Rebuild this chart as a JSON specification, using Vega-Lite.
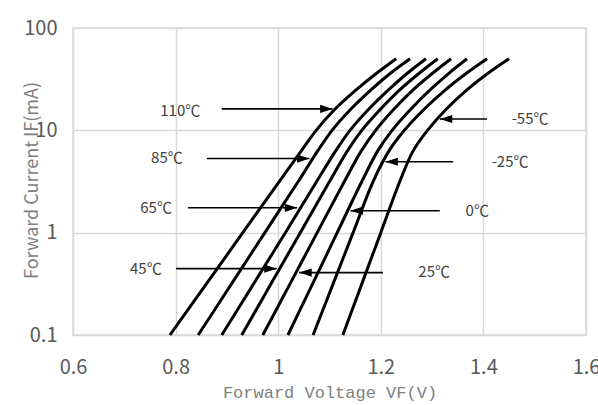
{
  "$schema": "https://vega.github.io/schema/vega-lite/v6.json",
  "width": 513,
  "height": 307,
  "autosize": {"type": "none"},
  "padding": {"left": 73, "top": 28, "right": 12, "bottom": 70},
  "background": "white",
  "config": {"view": {"stroke": "#d9d9d9", "strokeWidth": 1.5}},
  "datasets": {
    "curves": [
      {"T": "110", "V": 0.789, "I": 0.1}, {"T": "110", "V": 0.860, "I": 0.316}, {"T": "110", "V": 0.931, "I": 1}, {"T": "110", "V": 1.002, "I": 3.16}, {"T": "110", "V": 1.045, "I": 6.3}, {"T": "110", "V": 1.074, "I": 10}, {"T": "110", "V": 1.109, "I": 15.8}, {"T": "110", "V": 1.153, "I": 25.1}, {"T": "110", "V": 1.190, "I": 35.5}, {"T": "110", "V": 1.230, "I": 50},
      {"T": "85", "V": 0.844, "I": 0.1}, {"T": "85", "V": 0.909, "I": 0.316}, {"T": "85", "V": 0.974, "I": 1}, {"T": "85", "V": 1.039, "I": 3.16}, {"T": "85", "V": 1.077, "I": 6.3}, {"T": "85", "V": 1.105, "I": 10}, {"T": "85", "V": 1.140, "I": 15.8}, {"T": "85", "V": 1.182, "I": 25.1}, {"T": "85", "V": 1.217, "I": 35.5}, {"T": "85", "V": 1.257, "I": 50},
      {"T": "65", "V": 0.890, "I": 0.1}, {"T": "65", "V": 0.952, "I": 0.316}, {"T": "65", "V": 1.014, "I": 1}, {"T": "65", "V": 1.075, "I": 3.16}, {"T": "65", "V": 1.112, "I": 6.3}, {"T": "65", "V": 1.140, "I": 10}, {"T": "65", "V": 1.175, "I": 15.8}, {"T": "65", "V": 1.216, "I": 25.1}, {"T": "65", "V": 1.250, "I": 35.5}, {"T": "65", "V": 1.288, "I": 50},
      {"T": "45", "V": 0.929, "I": 0.1}, {"T": "45", "V": 0.986, "I": 0.316}, {"T": "45", "V": 1.043, "I": 1}, {"T": "45", "V": 1.100, "I": 3.16}, {"T": "45", "V": 1.135, "I": 6.3}, {"T": "45", "V": 1.163, "I": 10}, {"T": "45", "V": 1.198, "I": 15.8}, {"T": "45", "V": 1.238, "I": 25.1}, {"T": "45", "V": 1.273, "I": 35.5}, {"T": "45", "V": 1.311, "I": 50},
      {"T": "25", "V": 0.970, "I": 0.1}, {"T": "25", "V": 1.023, "I": 0.316}, {"T": "25", "V": 1.076, "I": 1}, {"T": "25", "V": 1.129, "I": 3.16}, {"T": "25", "V": 1.162, "I": 6.3}, {"T": "25", "V": 1.190, "I": 10}, {"T": "25", "V": 1.224, "I": 15.8}, {"T": "25", "V": 1.264, "I": 25.1}, {"T": "25", "V": 1.299, "I": 35.5}, {"T": "25", "V": 1.337, "I": 50},
      {"T": "0", "V": 1.019, "I": 0.1}, {"T": "0", "V": 1.067, "I": 0.316}, {"T": "0", "V": 1.115, "I": 1}, {"T": "0", "V": 1.163, "I": 3.16}, {"T": "0", "V": 1.194, "I": 6.3}, {"T": "0", "V": 1.222, "I": 10}, {"T": "0", "V": 1.257, "I": 15.8}, {"T": "0", "V": 1.297, "I": 25.1}, {"T": "0", "V": 1.331, "I": 35.5}, {"T": "0", "V": 1.368, "I": 50},
      {"T": "-25", "V": 1.068, "I": 0.1}, {"T": "-25", "V": 1.107, "I": 0.316}, {"T": "-25", "V": 1.146, "I": 1}, {"T": "-25", "V": 1.185, "I": 3.16}, {"T": "-25", "V": 1.216, "I": 6.3}, {"T": "-25", "V": 1.246, "I": 10}, {"T": "-25", "V": 1.283, "I": 15.8}, {"T": "-25", "V": 1.327, "I": 25.1}, {"T": "-25", "V": 1.365, "I": 35.5}, {"T": "-25", "V": 1.407, "I": 50},
      {"T": "-55", "V": 1.126, "I": 0.1}, {"T": "-55", "V": 1.163, "I": 0.316}, {"T": "-55", "V": 1.200, "I": 1}, {"T": "-55", "V": 1.237, "I": 3.16}, {"T": "-55", "V": 1.263, "I": 6.3}, {"T": "-55", "V": 1.291, "I": 10}, {"T": "-55", "V": 1.326, "I": 15.8}, {"T": "-55", "V": 1.369, "I": 25.1}, {"T": "-55", "V": 1.407, "I": 35.5}, {"T": "-55", "V": 1.450, "I": 50}
    ],
    "arrows": [
      {"tail": 0.890, "tip": 1.106, "I": 16.2, "dir": "right"},
      {"tail": 0.861, "tip": 1.061, "I": 5.3, "dir": "right"},
      {"tail": 0.824, "tip": 1.037, "I": 1.75, "dir": "right"},
      {"tail": 0.801, "tip": 0.997, "I": 0.445, "dir": "right"},
      {"tail": 1.204, "tip": 1.041, "I": 0.407, "dir": "left"},
      {"tail": 1.315, "tip": 1.141, "I": 1.64, "dir": "left"},
      {"tail": 1.341, "tip": 1.209, "I": 4.93, "dir": "left"},
      {"tail": 1.407, "tip": 1.315, "I": 12.9, "dir": "left"}
    ],
    "labels": [
      {"label": "110℃", "V": 0.809, "I": 15.5},
      {"label": "85℃", "V": 0.783, "I": 5.4},
      {"label": "65℃", "V": 0.762, "I": 1.75},
      {"label": "45℃", "V": 0.742, "I": 0.44},
      {"label": "25℃", "V": 1.304, "I": 0.41},
      {"label": "0℃", "V": 1.388, "I": 1.64},
      {"label": "-25℃", "V": 1.452, "I": 4.9},
      {"label": "-55℃", "V": 1.491, "I": 12.9}
    ]
  },
  "layer": [
    {
      "data": {"name": "curves"},
      "mark": {"type": "line", "color": "black", "strokeWidth": 3, "interpolate": "catmull-rom"},
      "encoding": {
        "x": {
          "field": "V", "type": "quantitative",
          "scale": {"domain": [0.6, 1.6], "zero": false, "nice": false},
          "axis": {
            "values": [0.6, 0.8, 1, 1.2, 1.4, 1.6], "format": "~g",
            "grid": true, "gridColor": "#d9d9d9", "gridWidth": 1.5,
            "domain": false, "ticks": false, "labelFlush": false,
            "labelFont": "Noto Sans CJK SC", "labelFontSize": 20, "labelColor": "#595959", "labelPadding": 22,
            "title": "Forward Voltage VF(V)", "titleFont": "Liberation Mono", "titleFontSize": 17,
            "titleFontWeight": "normal", "titleColor": "#808080", "titleBaseline": "alphabetic", "titleY": 62
          }
        },
        "y": {
          "field": "I", "type": "quantitative",
          "scale": {"type": "log", "domain": [0.1, 100], "nice": false},
          "axis": {
            "values": [0.1, 1, 10, 100], "format": "~g",
            "grid": true, "gridColor": "#d9d9d9", "gridWidth": 1.5,
            "domain": false, "ticks": false,
            "labelFont": "Noto Sans CJK SC", "labelFontSize": 20, "labelColor": "#595959", "labelPadding": 16,
            "title": "Forward Current IF(mA)", "titleFont": "Noto Sans CJK SC", "titleFontSize": 18,
            "titleFontWeight": "normal", "titleColor": "#808080", "titleX": -41, "titleY": 152,
            "titleAngle": -90, "titleAlign": "center", "titleBaseline": "middle"
          }
        },
        "detail": {"field": "T", "type": "nominal"}
      }
    },
    {
      "data": {"name": "arrows"},
      "mark": {"type": "rule", "color": "black", "strokeWidth": 1.6},
      "encoding": {
        "x": {"field": "tail", "type": "quantitative"},
        "x2": {"field": "tip"},
        "y": {"field": "I", "type": "quantitative"}
      }
    },
    {
      "data": {"name": "arrows"},
      "mark": {"type": "point", "filled": true, "color": "black", "opacity": 1, "size": 620, "strokeWidth": 0},
      "encoding": {
        "x": {"field": "tip", "type": "quantitative"},
        "y": {"field": "I", "type": "quantitative"},
        "shape": {
          "field": "dir", "type": "nominal",
          "scale": {"domain": ["right", "left"], "range": ["M0,0L-1,-0.33L-1,0.33Z", "M0,0L1,-0.33L1,0.33Z"]},
          "legend": null
        }
      }
    },
    {
      "data": {"name": "labels"},
      "mark": {"type": "text", "font": "Noto Sans CJK SC", "fontSize": 15, "color": "#404040", "align": "center", "baseline": "middle"},
      "encoding": {
        "x": {"field": "V", "type": "quantitative"},
        "y": {"field": "I", "type": "quantitative"},
        "text": {"field": "label", "type": "nominal"}
      }
    }
  ]
}
